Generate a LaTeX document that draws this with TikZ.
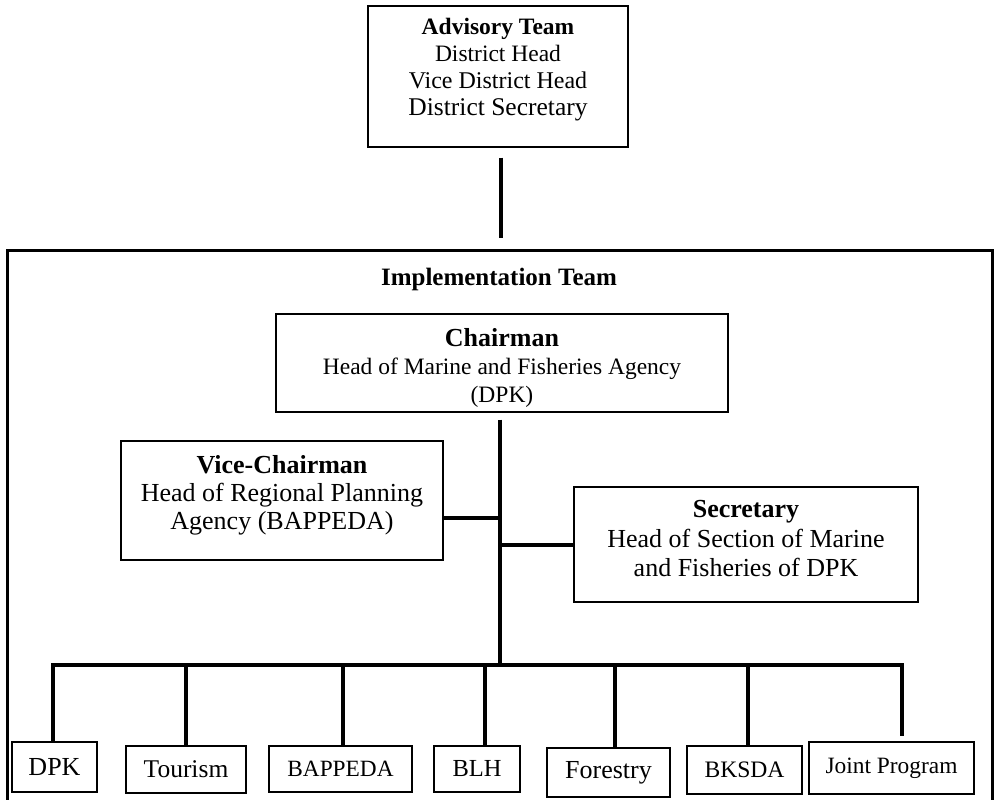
\documentclass[tikz,border=0pt]{standalone}
\usepackage{fontspec}
\setmainfont{Liberation Serif}
\newcommand\fsz[2]{\fontsize{#1}{#2}\selectfont}
\begin{document}
\begin{tikzpicture}[x=1pt,y=-1pt,
  box/.style={draw, line width=1.4pt, inner sep=0pt},
  txt/.style={align=center, inner sep=0pt},
  conn/.style={line width=4pt},
  leaf/.style={box, minimum height=#1},
  leaf/.default=50pt
]
\useasboundingbox (0,0) rectangle (996,800);
\fill[white] (0,0) rectangle (996,800);

% Advisory team
\node[box, minimum width=260pt, minimum height=141pt] (adv) at (498,76.5) {};
\node[txt, font=\fsz{23.5}{27}] (advT) at (498,70)
  {{\bfseries Advisory Team}\\District Head\\{\fsz{24}{27}Vice District Head}\\{\fsz{25.5}{27}District Secretary}};

% Implementation team container
\draw[line width=3pt] (7,800) -- (7,250) -- (992,250) -- (992,800);
\coordinate (implTop) at (501,250);
\node[txt, font=\fsz{25}{28}\bfseries] (implT) at (499,279) {Implementation Team};

\draw[conn] ([yshift=-10pt]adv.south -| implTop) -- ([yshift=12pt]implTop);

% Chairman
\node[box, minimum width=452pt, minimum height=98pt] (chair) at (502,363) {};
\node[txt, font=\fsz{23.5}{28}] (chairT) at (502,368)
  {{\fsz{26}{28}\bfseries Chairman}\\Head of Marine and Fisheries Agency\\(DPK)};

% Vice-Chairman
\node[box, minimum width=322pt, minimum height=119pt] (vice) at (282,500.5) {};
\node[txt, font=\fsz{26}{28}] (viceT) at (282,495)
  {{\bfseries Vice-Chairman}\\Head of Regional Planning\\Agency (BAPPEDA)};

% Secretary
\node[box, minimum width=344pt, minimum height=115pt] (sec) at (746,544.5) {};
\node[txt, font=\fsz{26}{29.5}] (secT) at (746,539)
  {{\bfseries Secretary}\\Head of Section of Marine\\and Fisheries of DPK};

% trunk and side connectors
\coordinate (bus) at (500,665);
\coordinate (tv) at (500,518);
\coordinate (ts) at (500,544.5);
\draw[conn] ([yshift=-7pt]chair.south -| bus) -- (bus);
\draw[conn] (tv -| vice.east) -- (tv);
\draw[conn] (ts) -- (sec.west);

% bottom units
\node[leaf=50pt, minimum width=85pt,  font=\fsz{26}{28}]   (dpk)  at (54.5,767)  {DPK};
\node[leaf=47pt, minimum width=120pt, font=\fsz{25.5}{28}] (tour) at (186,769.5) {Tourism};
\node[leaf=46pt, minimum width=143pt, font=\fsz{23.3}{28}] (bap)  at (340.5,769) {BAPPEDA};
\node[leaf=46pt, minimum width=86pt,  font=\fsz{24.5}{28}] (blh)  at (477,769)   {BLH};
\node[leaf=49pt, minimum width=123pt, font=\fsz{26}{28}]   (for)  at (608.5,772.5) {Forestry};
\node[leaf=48pt, minimum width=115pt, font=\fsz{23.6}{28}] (bks)  at (744.5,770) {BKSDA};
\node[leaf=52pt, minimum width=165pt, font=\fsz{23.4}{28}] (jp)   at (891.5,768) {Joint Program};

\coordinate (b1) at (53,665);
\coordinate (b2) at (186,665);
\coordinate (b3) at (343,665);
\coordinate (b4) at (485,665);
\coordinate (b5) at (615,665);
\coordinate (b6) at (748,665);
\coordinate (b7) at (902,665);

\draw[conn, line join=miter] (b1 |- dpk.north) -- (b1) -- (b7) -- ([yshift=5pt]b7 |- jp.north);
\draw[conn] (b2) -- (b2 |- tour.north);
\draw[conn] (b3) -- (b3 |- bap.north);
\draw[conn] (b4) -- (b4 |- blh.north);
\draw[conn] (b5) -- (b5 |- for.north);
\draw[conn] (b6) -- (b6 |- bks.north);
\end{tikzpicture}
\end{document}
